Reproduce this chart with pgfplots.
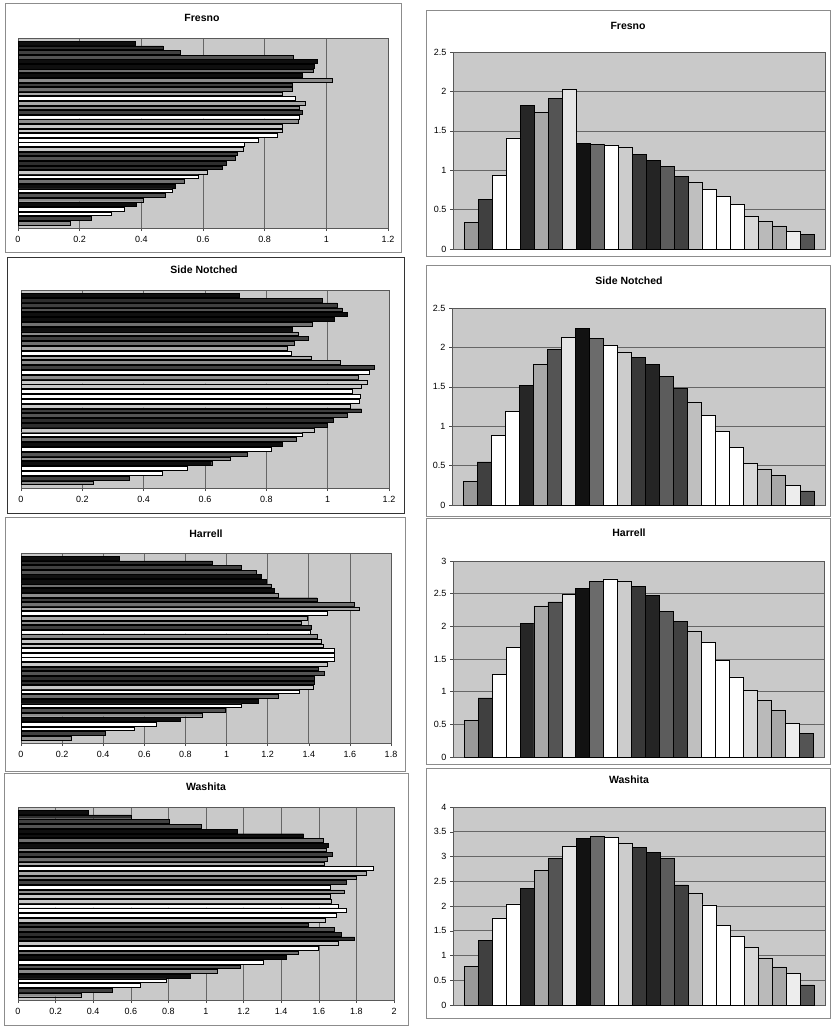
\documentclass[border=0pt]{standalone}
\usepackage{fontspec}
\setmainfont{Liberation Sans}
\usepackage{pgfplots}
\usepackage{pgfplotstable}
\pgfplotsset{compat=1.18}

% left panels: 40 horizontal bars, top to bottom; g = grey level (% white)
\pgfplotstableread{
idx g   fresno side  harrell washita
1   6   0.380  0.713 0.477   0.375
2   18  0.470  0.981 0.932   0.600
3   25  0.525  1.030 1.070   0.804
4   33  0.894  1.047 1.143   0.973
5   6   0.971  1.064 1.170   1.168
6   6   0.960  1.020 1.193   1.519
7   44  0.956  0.950 1.216   1.624
8   6   0.922  0.883 1.232   1.649
9   55  1.020  0.903 1.251   1.641
10  25  0.890  0.937 1.441   1.673
11  44  0.890  0.890 1.620   1.647
12  66  0.857  0.869 1.644   1.629
13  100 0.900  0.880 1.492   1.888
14  66  0.930  0.947 1.394   1.853
15  55  0.911  1.040 1.362   1.799
16  25  0.923  1.153 1.410   1.748
17  100 0.912  1.135 1.406   1.659
18  55  0.909  1.100 1.443   1.737
19  78  0.856  1.130 1.458   1.663
20  78  0.856  1.110 1.472   1.666
21  100 0.840  1.080 1.522   1.704
22  100 0.780  1.105 1.526   1.748
23  100 0.735  1.103 1.522   1.695
24  78  0.730  1.074 1.492   1.634
25  25  0.711  1.110 1.448   1.544
26  33  0.704  1.064 1.477   1.684
27  18  0.675  1.018 1.428   1.719
28  18  0.662  0.999 1.427   1.790
29  78  0.615  0.957 1.420   1.702
30  100 0.585  0.917 1.352   1.599
31  44  0.540  0.896 1.251   1.491
32  6   0.510  0.853 1.152   1.429
33  100 0.500  0.817 1.071   1.304
34  33  0.476  0.737 0.992   1.183
35  55  0.406  0.681 0.883   1.058
36  6   0.384  0.622 0.773   0.916
37  100 0.346  0.542 0.659   0.788
38  100 0.303  0.462 0.552   0.651
39  25  0.239  0.353 0.409   0.499
40  55  0.168  0.234 0.245   0.337
}\lefttab

% right panels: 25 vertical bars, left to right
\pgfplotstableread{
idx g   fresno side  harrell washita
1   60  0.343  0.300 0.564   0.782
2   25  0.626  0.546 0.905   1.309
3   100 0.930  0.884 1.261   1.761
4   100 1.409  1.189 1.673   2.044
5   15  1.827  1.523 2.049   2.368
6   66  1.738  1.781 2.313   2.725
7   33  1.916  1.971 2.374   2.968
8   90  2.026  2.132 2.491   3.211
9   7   1.345  2.242 2.588   3.373
10  42  1.332  2.119 2.689   3.400
11  100 1.320  2.026 2.725   3.380
12  80  1.290  1.937 2.694   3.272
13  22  1.201  1.874 2.618   3.191
14  14  1.121  1.789 2.481   3.089
15  36  1.045  1.633 2.227   2.955
16  25  0.922  1.476 2.079   2.428
17  75  0.842  1.303 1.932   2.253
18  100 0.761  1.138 1.749   2.024
19  100 0.668  0.939 1.484   1.605
20  100 0.567  0.736 1.225   1.390
21  85  0.415  0.533 1.022   1.174
22  73  0.347  0.457 0.869   0.951
23  66  0.292  0.376 0.717   0.769
24  93  0.228  0.250 0.524   0.634
25  33  0.182  0.178 0.361   0.405
}\righttab

\pgfplotsset{
  panel/.style={
    scale only axis, anchor=north west,
    axis background/.style={fill=black!21},
    axis line style={black!65, line width=0.6pt},
    grid style={black!60, line width=0.6pt},
    tick style={black!70, line width=0.5pt},
    tick align=outside, major tick length=3pt,
    tick label style={font=\fontsize{9}{10}\selectfont},
    /pgf/number format/assume math mode=true,
  },
  leftpanel/.style={panel,
    xmin=0, y dir=reverse, ymin=-0.1, ymax=41.1,
    ytick=\empty, xtick pos=bottom, xmajorgrids,
    xticklabel style={yshift=-2pt},
  },
  rightpanel/.style={panel,
    xmin=-0.3, xmax=26.3, ymin=0,
    xtick=\empty, ytick pos=left, ymajorgrids,
  },
}

% #1 x, #2 y top, #3 width, #4 height, #5 column, #6 xmax, #7 ticks
\newcommand\leftplot[7]{%
  \begin{axis}[leftpanel, at={(#1pt,-#2pt)}, width=#3pt, height=#4pt,
      xmax=#6, xtick={#7}]
    \pgfplotsinvokeforeach{6,18,25,33,44,55,66,78,100}{
      \addplot[xbar, bar shift=0pt, bar width=0.8, draw=black, line width=0.4pt,
        fill=white!##1!black,
        restrict expr to domain={\thisrow{g}}{##1:##1}]
        table[x=#5, y=idx] {\lefttab};
    }
  \end{axis}}

% #1 x, #2 y top, #3 width, #4 height, #5 column, #6 ymax, #7 ticks
\newcommand\rightplot[7]{%
  \begin{axis}[rightpanel, at={(#1pt,-#2pt)}, width=#3pt, height=#4pt,
      ymax=#6, ytick={#7}]
    \pgfplotsinvokeforeach{7,14,15,22,25,33,36,42,60,66,73,75,80,85,90,93,100}{
      \addplot[ybar, bar shift=0pt, bar width=1, draw=black, line width=0.5pt,
        fill=white!##1!black,
        restrict expr to domain={\thisrow{g}}{##1:##1}]
        table[x=idx, y=#5] {\righttab};
    }
  \end{axis}}

\begin{document}
\begin{tikzpicture}
\path[use as bounding box] (0,0) rectangle (836pt,-1028pt);

% frames
\draw[black!45, line width=0.8pt] (5pt,-3pt) rectangle (401pt,-252pt);
\draw[black!80, line width=0.8pt] (7pt,-257pt) rectangle (404pt,-513pt);
\draw[black!45, line width=0.8pt] (5pt,-517pt) rectangle (405pt,-771pt);
\draw[black!45, line width=0.8pt] (4pt,-773pt) rectangle (408pt,-1025pt);
\draw[black!45, line width=0.8pt] (426pt,-10pt) rectangle (830pt,-256pt);
\draw[black!45, line width=0.8pt] (426pt,-265pt) rectangle (830pt,-516pt);
\draw[black!45, line width=0.8pt] (426pt,-518pt) rectangle (830pt,-764pt);
\draw[black!45, line width=0.8pt] (426pt,-768pt) rectangle (830pt,-1018pt);

\leftplot{18}{38}{370}{190}{fresno}{1.2}{0,0.2,0.4,0.6,0.8,1,1.2}
\leftplot{21}{290}{368}{198}{side}{1.2}{0,0.2,0.4,0.6,0.8,1,1.2}
\leftplot{21}{553}{370}{190}{harrell}{1.8}{0,0.2,0.4,0.6,0.8,1,1.2,1.4,1.6,1.8}
\leftplot{18}{807}{376}{193}{washita}{2}{0,0.2,0.4,0.6,0.8,1,1.2,1.4,1.6,1.8,2}

\rightplot{453}{52}{372}{197}{fresno}{2.5}{0,0.5,1,1.5,2,2.5}
\rightplot{452}{308}{373}{197}{side}{2.5}{0,0.5,1,1.5,2,2.5}
\rightplot{453}{561}{371}{196}{harrell}{3}{0,0.5,1,1.5,2,2.5,3}
\rightplot{453}{807}{372}{198}{washita}{4}{0,0.5,1,1.5,2,2.5,3,3.5,4}

% titles
\begin{scope}[every node/.style={font=\bfseries\fontsize{10.5}{12}\selectfont}]
\node at (202pt,-18pt) {Fresno};
\node at (204pt,-270pt) {Side Notched};
\node at (206pt,-534pt) {Harrell};
\node at (206pt,-787pt) {Washita};
\node at (628pt,-26pt) {Fresno};
\node at (629pt,-281pt) {Side Notched};
\node at (629pt,-533pt) {Harrell};
\node at (629pt,-780pt) {Washita};
\end{scope}
\end{tikzpicture}
\end{document}
